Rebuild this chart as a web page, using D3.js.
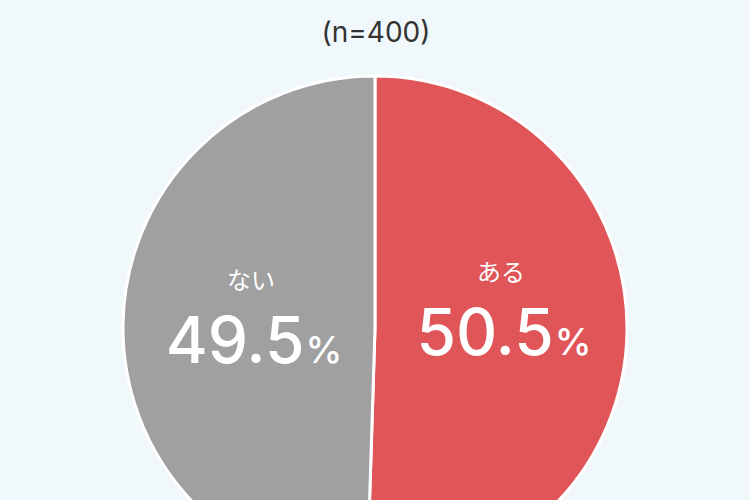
<!DOCTYPE html>
<html>
<head>
<meta charset="utf-8">
<script src="https://cdn.jsdelivr.net/npm/d3@7"></script>
<style>
  body { margin: 0; background: #f0f8fb; }
  svg { display: block; }
</style>
</head>
<body>
<svg id="chart" width="750" height="500"></svg>
<script>
// data
const categories = ['ある', 'ない'];
const shares = [50.5, 49.5];
const sliceColors = ['#e05558', '#a0a0a0'];
const sampleLabel = '(n=400)';

const svg = d3.select('#chart');
const width = +svg.attr('width');
const font = 'Inter, "Noto Sans CJK JP", sans-serif';
const jpFont = '"Noto Sans CJK JP", sans-serif';

const cx = 375, cy = 328, radius = 252;

svg.append('rect')
  .attr('width', width)
  .attr('height', +svg.attr('height'))
  .attr('fill', '#f0f8fb');

// title
svg.append('text')
  .attr('x', width / 2 + 1)
  .attr('y', 42)
  .attr('text-anchor', 'middle')
  .attr('font-family', font)
  .attr('font-size', 28)
  .attr('fill', '#333')
  .text(sampleLabel);

const data = categories.map((c, i) => ({ cat: c, value: shares[i], color: sliceColors[i] }));

const pie = d3.pie().sort(null).value(d => d.value);
const arc = d3.arc().innerRadius(0).outerRadius(radius);
const labelArc = d3.arc().innerRadius(125).outerRadius(125);

const g = svg.append('g').attr('transform', `translate(${cx},${cy})`);

const slices = g.selectAll('g.slice').data(pie(data)).enter().append('g').attr('class', 'slice');

slices.append('path')
  .attr('d', arc)
  .attr('fill', d => d.data.color)
  .attr('stroke', '#ffffff')
  .attr('stroke-width', 3);

// right label sits a bit higher than the left one
const lift = d => d.index === 0 ? -12 : 0;

// category labels
slices.append('text')
  .attr('transform', d => {
    const [x, y] = labelArc.centroid(d);
    return `translate(${x + 1},${y + lift(d) - 37})`;
  })
  .attr('text-anchor', 'middle')
  .attr('font-family', jpFont)
  .attr('font-size', 24)
  .attr('fill', '#fff')
  .text(d => d.data.cat);

// percentage labels
const pct = slices.append('text')
  .attr('transform', d => {
    const [x, y] = labelArc.centroid(d);
    return `translate(${x + 4},${y + lift(d) + 37})`;
  })
  .attr('text-anchor', 'middle')
  .attr('font-family', font)
  .attr('font-weight', 500)
  .attr('fill', '#fff');

pct.append('tspan')
  .attr('font-size', 64)
  .text(d => d3.format('.1f')(d.data.value));
pct.append('tspan')
  .attr('font-size', 37)
  .attr('dx', 1)
  .text('%');
</script>
</body>
</html>
